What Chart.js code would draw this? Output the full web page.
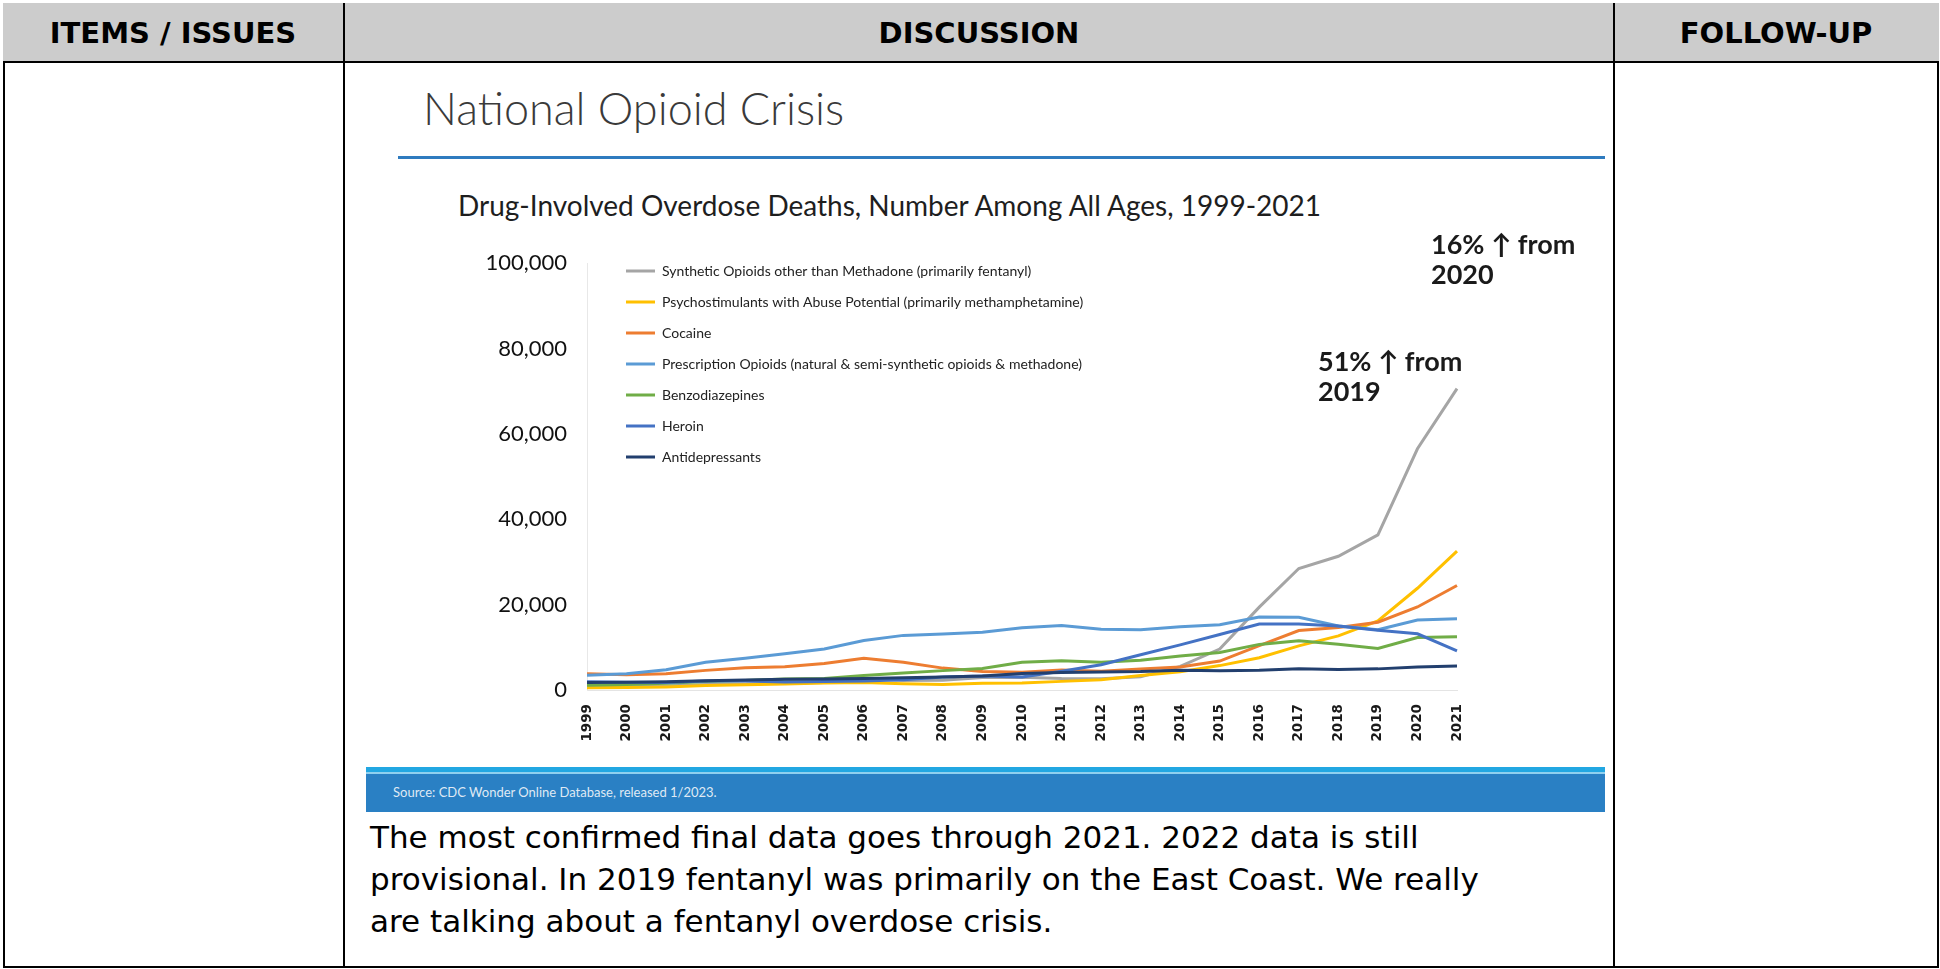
<!DOCTYPE html>
<html>
<head>
<meta charset="utf-8">
<script src="https://cdn.jsdelivr.net/npm/chart.js@4.4.1/dist/chart.umd.min.js"></script>
<style>
  html, body { margin: 0; padding: 0; background: #fff; }
  body { width: 1940px; height: 969px; position: relative; overflow: hidden; }
  .abs { position: absolute; }
  .frame { left: 3px; top: 3px; width: 1936px; height: 965px; border: 2px solid #000; box-sizing: border-box; }
  .head { left: 3px; top: 3px; width: 1936px; height: 60px; background: #cccccc; }
  .hline { left: 3px; top: 61px; width: 1936px; height: 2px; background: #000; }
  .vline { top: 3px; width: 2px; height: 965px; background: #000; }
  .htxt { top: 13px; height: 40px; line-height: 40px; text-align: center; font-family: "DejaVu Sans", Verdana, sans-serif; font-weight: bold; font-size: 29px; color: #000; }
  .title { left: 423px; top: 81px; font-family: Lato, "Open Sans", sans-serif; font-weight: 300; font-size: 45px; color: #3a3a3a; white-space: nowrap; line-height: 54px; }
  .rule { left: 398px; top: 156px; width: 1207px; height: 3px; background: #2f7bbf; }
  .sub { left: 458px; top: 188px; font-family: Lato, "Open Sans", sans-serif; font-size: 28px; color: #1e1e1e; white-space: nowrap; line-height: 34px; }
  .note { font-family: Lato, "Open Sans", sans-serif; font-weight: bold; font-size: 27px; color: #1a1a1a; line-height: 30px; white-space: nowrap; }
  .band1 { left: 366px; top: 767px; width: 1239px; height: 5px; background: #22a7e2; }
  .band2 { left: 366px; top: 772px; width: 1239px; height: 2px; background: #8fd0ef; }
  .band3 { left: 366px; top: 774px; width: 1239px; height: 38px; background: #2a80c4; }
  .src { left: 393px; top: 783px; font-family: Lato, "Open Sans", sans-serif; font-size: 13px; color: #dfe9f4; white-space: nowrap; line-height: 18px; }
  .para { left: 370px; top: 816px; font-family: "DejaVu Sans", Verdana, sans-serif; font-size: 31px; color: #000; line-height: 42px; white-space: nowrap; }
  #wrap { left: 370px; top: 230px; width: 1230px; height: 530px; }
</style>
</head>
<body>
<div class="abs frame"></div>
<div class="abs head"></div>
<div class="abs hline"></div>
<div class="abs vline" style="left:343px"></div>
<div class="abs vline" style="left:1613px"></div>
<div class="abs htxt" style="left:3px;width:340px">ITEMS / ISSUES</div>
<div class="abs htxt" style="left:345px;width:1268px">DISCUSSION</div>
<div class="abs htxt" style="left:1615px;width:322px">FOLLOW-UP</div>

<div class="abs title">National Opioid Crisis</div>
<div class="abs rule"></div>
<div class="abs sub">Drug-Involved Overdose Deaths, Number Among All Ages, 1999-2021</div>

<div class="abs" id="wrap"><canvas id="chart" width="1230" height="530"></canvas></div>

<div class="abs note" style="left:1431px;top:229px">16% ↑ from<br>2020</div>
<div class="abs note" style="left:1318px;top:346px">51% ↑ from<br>2019</div>

<div class="abs band1"></div>
<div class="abs band2"></div>
<div class="abs band3"></div>
<div class="abs src">Source: CDC Wonder Online Database, released 1/2023.</div>

<div class="abs para">The most confirmed final data goes through 2021. 2022 data is still<br>provisional. In 2019 fentanyl was primarily on the East Coast. We really<br>are talking about a fentanyl overdose crisis.</div>

<script>
// Drug-involved overdose deaths by year
const years = ["1999","2000","2001","2002","2003","2004","2005","2006","2007","2008","2009","2010",
               "2011","2012","2013","2014","2015","2016","2017","2018","2019","2020","2021"];

const syntheticOpioids = [730, 782, 957, 1295, 1400, 1664, 1742, 2707, 2213, 2306, 2946, 3007,
                          2666, 2628, 3105, 5544, 9580, 19413, 28466, 31335, 36359, 56516, 70601];
const psychostimulants = [547, 578, 708, 1040, 1207, 1401, 1655, 1783, 1479, 1295, 1575, 1627,
                          2021, 2400, 3400, 4298, 5716, 7542, 10333, 12676, 16167, 23837, 32537];
const cocaine          = [3822, 3544, 3833, 4599, 5199, 5443, 6208, 7448, 6512, 5129, 4350, 4183,
                          4681, 4404, 4944, 5415, 6784, 10375, 13942, 14666, 15883, 19447, 24486];
const prescription     = [3442, 3785, 4770, 6483, 7456, 8517, 9612, 11589, 12796, 13149, 13523, 14583,
                          15140, 14240, 14145, 14838, 15281, 17087, 17029, 14975, 14139, 16416, 16706];
const benzodiazepines  = [1135, 1298, 1594, 2007, 2248, 2585, 2707, 3414, 3978, 4540, 5013, 6497,
                          6872, 6524, 6973, 7945, 8791, 10684, 11537, 10724, 9711, 12290, 12499];
const heroin           = [1960, 1842, 1779, 2089, 2080, 1878, 2009, 2088, 2399, 3041, 3278, 3036,
                          4397, 5925, 8257, 10574, 12989, 15469, 15482, 14996, 14019, 13165, 9173];
const antidepressants  = [1749, 1803, 1917, 2184, 2333, 2508, 2587, 2689, 2877, 3053, 3308, 3889,
                          4112, 4224, 4308, 4634, 4516, 4600, 5000, 4800, 4950, 5400, 5650];

const seriesNames = [
  "Synthetic Opioids other than Methadone (primarily fentanyl)",
  "Psychostimulants with Abuse Potential (primarily methamphetamine)",
  "Cocaine",
  "Prescription Opioids (natural & semi-synthetic opioids & methadone)",
  "Benzodiazepines",
  "Heroin",
  "Antidepressants"
];
const seriesValues = [syntheticOpioids, psychostimulants, cocaine, prescription, benzodiazepines, heroin, antidepressants];
const seriesColors = ["#a5a5a5", "#ffc000", "#ed7d31", "#5b9bd5", "#70ad47", "#4472c4", "#223f6e"];

const yTicks = { min: 0, max: 100000, step: 20000 };

// canvas-space target for the plot rectangle
const plotLeft = 217, plotRight = 1087, plotTop = 30, plotBottom = 460;

// nudges the in-plot legend to its spot
const legendNudge = {
  id: 'legendNudge',
  afterLayout(chart) {
    const lg = chart.legend;
    if (!lg) return;
    const dx = 22, dy = 17;
    lg.left += dx; lg.right += dx; lg.top += dy; lg.bottom += dy;
  }
};

new Chart(document.getElementById('chart'), {
  type: 'line',
  data: {
    labels: years,
    datasets: seriesNames.map((name, i) => ({
      label: name,
      data: seriesValues[i],
      borderColor: seriesColors[i],
      backgroundColor: seriesColors[i],
      borderWidth: 3,
      pointRadius: 0,
      tension: 0,
      fill: false,
      order: 6 - i
    }))
  },
  options: {
    responsive: false,
    animation: false,
    layout: { padding: { left: 0, top: plotTop, right: 1230 - plotRight, bottom: 0 } },
    plugins: {
      tooltip: { enabled: false },
      legend: {
        position: 'chartArea',
        align: 'start',
        labels: {
          font: { family: 'Lato', size: 14 },
          color: '#222',
          boxWidth: 29,
          boxHeight: 3,
          padding: 17,
          generateLabels(chart) {
            return chart.data.datasets.map((ds, i) => ({
              text: ds.label,
              fillStyle: ds.borderColor,
              strokeStyle: ds.borderColor,
              lineWidth: 0,
              hidden: false,
              datasetIndex: i,
              fontColor: '#222'
            }));
          }
        }
      }
    },
    scales: {
      x: {
        offset: false,
        grid: { display: false, drawTicks: false },
        border: { display: true, color: '#e4e4e4', width: 1 },
        ticks: {
          autoSkip: false,
          minRotation: 90,
          maxRotation: 90,
          padding: 14,
          color: '#1a1a1a',
          font: { family: 'DejaVu Sans', size: 13.5, weight: 'bold' }
        },
        afterFit(scale) { scale.height = 530 - plotBottom; }
      },
      y: {
        min: yTicks.min,
        max: yTicks.max,
        grid: { display: false, drawTicks: false },
        border: { display: true, color: '#e8e8e8', width: 1 },
        ticks: {
          stepSize: yTicks.step,
          padding: 20,
          color: '#111',
          font: { family: 'Lato', size: 22 },
          callback: (v) => v.toLocaleString('en-US')
        },
        afterFit(scale) { scale.width = plotLeft; }
      }
    }
  },
  plugins: [legendNudge]
});
</script>
</body>
</html>
